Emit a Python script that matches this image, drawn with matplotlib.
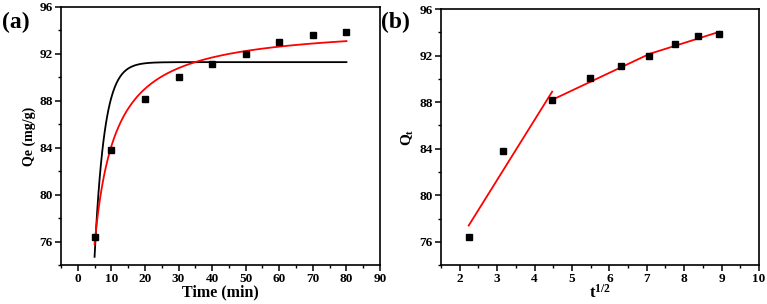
import numpy as np
import matplotlib.pyplot as plt
from matplotlib.ticker import MultipleLocator

plt.rcParams['font.family'] = 'Liberation Serif'
plt.rcParams['font.weight'] = 'bold'
plt.rcParams['mathtext.fontset'] = 'custom'
plt.rcParams['mathtext.rm'] = 'Liberation Serif:bold'
plt.rcParams['mathtext.it'] = 'Liberation Serif:bold'
plt.rcParams['mathtext.bf'] = 'Liberation Serif:bold'

# measured adsorption data
time_min = [5, 10, 20, 30, 40, 50, 60, 70, 80]
qt = [76.4, 83.8, 88.15, 90.05, 91.15, 92.0, 93.0, 93.65, 93.9]
sqrt_t = [2.24, 3.16, 4.47, 5.48, 6.32, 7.07, 7.75, 8.37, 8.94]

# fitted kinetic models
pfo_qe, pfo_k1 = 91.3, 0.341      # pseudo-first-order (black)
pso_qe, pso_h = 94.53, 0.809      # pseudo-second-order, h = qe*k2 (red)

# intraparticle diffusion segments (panel b)
seg1_x = [2.24, 4.47]
seg1_y = [77.4, 88.9]
seg2_x = [4.47, 7.07, 8.94]
seg2_y = [88.2, 92.15, 94.05]

fig = plt.figure(figsize=(7.67, 3.04), dpi=100)
ax1 = fig.add_axes([0.0795, 0.128, 0.416, 0.849])
ax2 = fig.add_axes([0.575, 0.128, 0.4146, 0.842])

tt = np.linspace(time_min[0], time_min[-1], 400)
q_pfo = pfo_qe * (1 - np.exp(-pfo_k1 * tt))
q_pso = pso_qe * pso_h * tt / (1 + pso_h * tt)
ax1.plot(tt, q_pfo, color='black', lw=1.3)
ax1.plot(tt, q_pso, color='red', lw=1.3)
ax1.plot(time_min, qt, 's', color='black', ms=4.8)
ax1.set_xlim(-5, 90)
ax1.set_ylim(74, 96)
ax1.xaxis.set_major_locator(MultipleLocator(10))
ax1.xaxis.set_minor_locator(MultipleLocator(5))
ax1.set_xlabel('Time (min)', fontsize=11.5, fontweight='bold', labelpad=-1)
ax1.set_ylabel('Qe (mg/g)', fontsize=10, fontweight='bold', labelpad=2)

ax2.plot(seg1_x, seg1_y, color='red', lw=1.3)
ax2.plot(seg2_x, seg2_y, color='red', lw=1.3)
ax2.plot(sqrt_t, qt, 's', color='black', ms=4.8)
ax2.set_xlim(1.5, 10)
ax2.set_ylim(74, 96)
ax2.xaxis.set_major_locator(MultipleLocator(1))
ax2.xaxis.set_minor_locator(MultipleLocator(0.5))
ax2.set_xlabel(r'$\mathrm{t^{1/2}}$', fontsize=12, labelpad=-1)
ax2.set_ylabel(r'$\mathrm{Q_t}$', fontsize=11, labelpad=2)

for ax in (ax1, ax2):
    ax.yaxis.set_major_locator(MultipleLocator(4))
    ax.yaxis.set_minor_locator(MultipleLocator(2))
    ax.tick_params(which='major', direction='out', length=4, width=1.1,
                   labelsize=9.5, pad=2)
    ax.tick_params(which='minor', direction='out', length=2.2, width=1)
    for sp in ax.spines.values():
        sp.set_linewidth(1.2)
    for lab in ax.get_xticklabels() + ax.get_yticklabels():
        lab.set_fontweight('bold')

fig.text(0.002, 0.925, '(a)', fontsize=17, fontweight='bold', va='center')
fig.text(0.497, 0.925, '(b)', fontsize=17, fontweight='bold', va='center')

fig.savefig('out.png', dpi=100)
